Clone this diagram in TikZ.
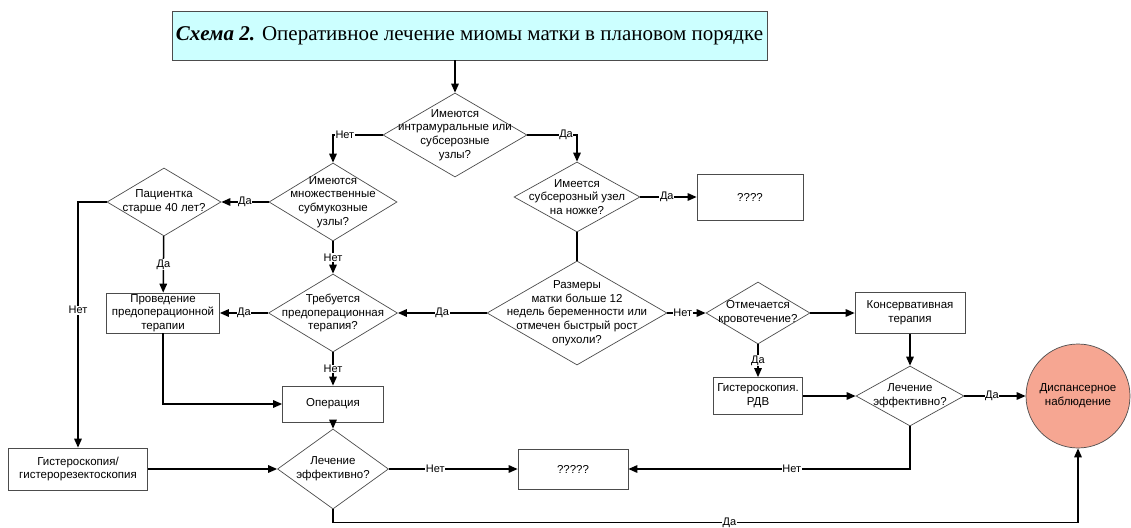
\documentclass[tikz,border=0pt]{standalone}
\usepackage{fontspec}
\setmainfont{Liberation Sans}
\newfontfamily\titlefont{Liberation Serif}
\usetikzlibrary{shapes.geometric,arrows.meta}

\definecolor{titlecyan}{RGB}{204,255,255}
\definecolor{circsalmon}{RGB}{246,166,146}

\begin{document}
\begin{tikzpicture}[x=1pt,y=-1pt,
	box/.style={shape=rectangle,draw=black!70,line width=0.7pt,fill=white,align=center,inner sep=0pt,font=\fontsize{11.5}{13.7}\selectfont},
	dia/.style={shape=diamond,draw=black!70,line width=0.7pt,fill=white,inner sep=0pt},
	dtext/.style={align=center,inner sep=0pt,font=\fontsize{11.5}{13.7}\selectfont},
	conn/.style={line width=1.5pt,-{Triangle[length=9pt,width=7.5pt]}},
	plain/.style={line width=1.5pt},
	lbl/.style={fill=white,inner sep=0.6pt,font=\fontsize{11}{13}\selectfont}]
	
	\useasboundingbox (0,0) rectangle (1131,527);
	
	% title
	\node[box,fill=titlecyan,minimum width=595pt,minimum height=49pt,font=\titlefont\fontsize{21}{24}\selectfont] (title) at (469.5,35.5) {\textbf{\textit{Схема 2.}} Оперативное лечение миомы матки в плановом порядке};
	
	% decisions
	\node[dia,minimum width=144pt,minimum height=84pt,label={[dtext]center:Имеются\\интрамуральные или\\субсерозные\\узлы?}] (d1) at (455,135) {};
	\node[dia,minimum width=128pt,minimum height=78pt,label={[dtext]center:Имеются\\множественные\\субмукозные\\узлы?}] (d2) at (333,202) {};
	\node[dia,minimum width=114pt,minimum height=68pt,label={[dtext]center:Пациентка\\старше 40 лет?}] (d4) at (164,202) {};
	\node[dia,minimum width=126pt,minimum height=70pt,label={[dtext]center:Имеется\\субсерозный узел\\на ножке?}] (d3) at (577,197) {};
	\node[dia,minimum width=129pt,minimum height=78pt,label={[dtext]center:Требуется\\предоперационная\\терапия?}] (d5) at (333,313) {};
	\node[dia,minimum width=180pt,minimum height=104pt,label={[dtext]center:Размеры\\матки больше 12\\недель беременности или\\отмечен быстрый рост\\опухоли?}] (d9) at (577,313) {};
	\node[dia,minimum width=104pt,minimum height=62pt,label={[dtext]center:Отмечается\\кровотечение?}] (d8) at (758,313) {};
	\node[dia,minimum width=108pt,minimum height=60pt,label={[dtext]center:Лечение\\эффективно?}] (d7) at (910,396) {};
	\node[dia,minimum width=111pt,minimum height=80pt,label={[dtext]center:Лечение\\эффективно?}] (d6) at (333,469) {};
	
	% actions
	\node[box,minimum width=113pt,minimum height=40pt] (prep) at (163,313) {Проведение\\предоперационной\\терапии};
	\node[box,minimum width=101pt,minimum height=36pt] (oper) at (333,404) {Операция};
	\node[box,minimum width=139pt,minimum height=42pt] (hyst) at (78,469) {Гистероскопия/\\гистерорезектоскопия};
	\node[box,minimum width=110pt,minimum height=40pt] (q5) at (573,469) {?????};
	\node[box,minimum width=106pt,minimum height=46pt] (q4) at (750,197) {????};
	\node[box,minimum width=110pt,minimum height=41pt] (cons) at (910,313) {Консервативная\\терапия};
	\node[box,minimum width=89pt,minimum height=37pt] (rdv) at (758,396) {Гистероскопия.\\РДВ};
	\node[shape=circle,draw=black!70,line width=0.7pt,fill=circsalmon,align=center,inner sep=0pt,minimum size=104pt,font=\fontsize{11.5}{13.7}\selectfont] (circ) at (1078,396) {Диспансерное\\наблюдение};
	
	% connectors
	\path[conn] (d1.north |- title.south) edge (d1.north);
	\draw[conn] (d1.west) -| node[lbl,pos=0.38] {Нет} (d2.north);
	\draw[conn] (d1.east) -| node[lbl,pos=0.39] {Да} (d3.north);
	\path[conn] (d2) edge node[lbl] {Да} (d4);
	\path[conn] (d2) edge node[lbl] {Нет} (d5);
	\draw[conn] (d4.west) -| node[lbl,pos=0.72] {Нет} (hyst.north);
	\path[conn] (d4) edge node[lbl] {Да} (prep);
	\path[conn] (d5) edge node[lbl] {Да} (prep);
	\path[conn] (d5) edge node[lbl] {Нет} (oper);
	\draw[conn] (prep.south) |- (oper.west);
	\path[conn] (oper) edge (d6);
	\path[conn] (hyst) edge (d6);
	\path[conn] (d6) edge node[lbl,pos=0.36] {Нет} (q5);
	\draw[conn] (d6.south) -- ++(0,13) -| node[lbl,pos=0.266] {Да} (circ.south);
	\path[conn] (d3) edge node[lbl,pos=0.47] {Да} (q4);
	\path[plain] (d3) edge (d9);
	\path[conn] (d9) edge node[lbl] {Да} (d5);
	\path[conn] (d9) edge node[lbl,pos=0.4] {Нет} (d8);
	\path[conn] (d8) edge (cons);
	\path[conn] (d8) edge node[lbl] {Да} (rdv);
	\path[conn] (cons) edge (d7);
	\path[conn] (rdv) edge (d7);
	\path[conn] (d7) edge node[lbl,pos=0.45] {Да} (circ);
	\draw[conn] (d7.south) |- node[lbl,pos=0.71] {Нет} (q5.east);
	
\end{tikzpicture}
\end{document}
